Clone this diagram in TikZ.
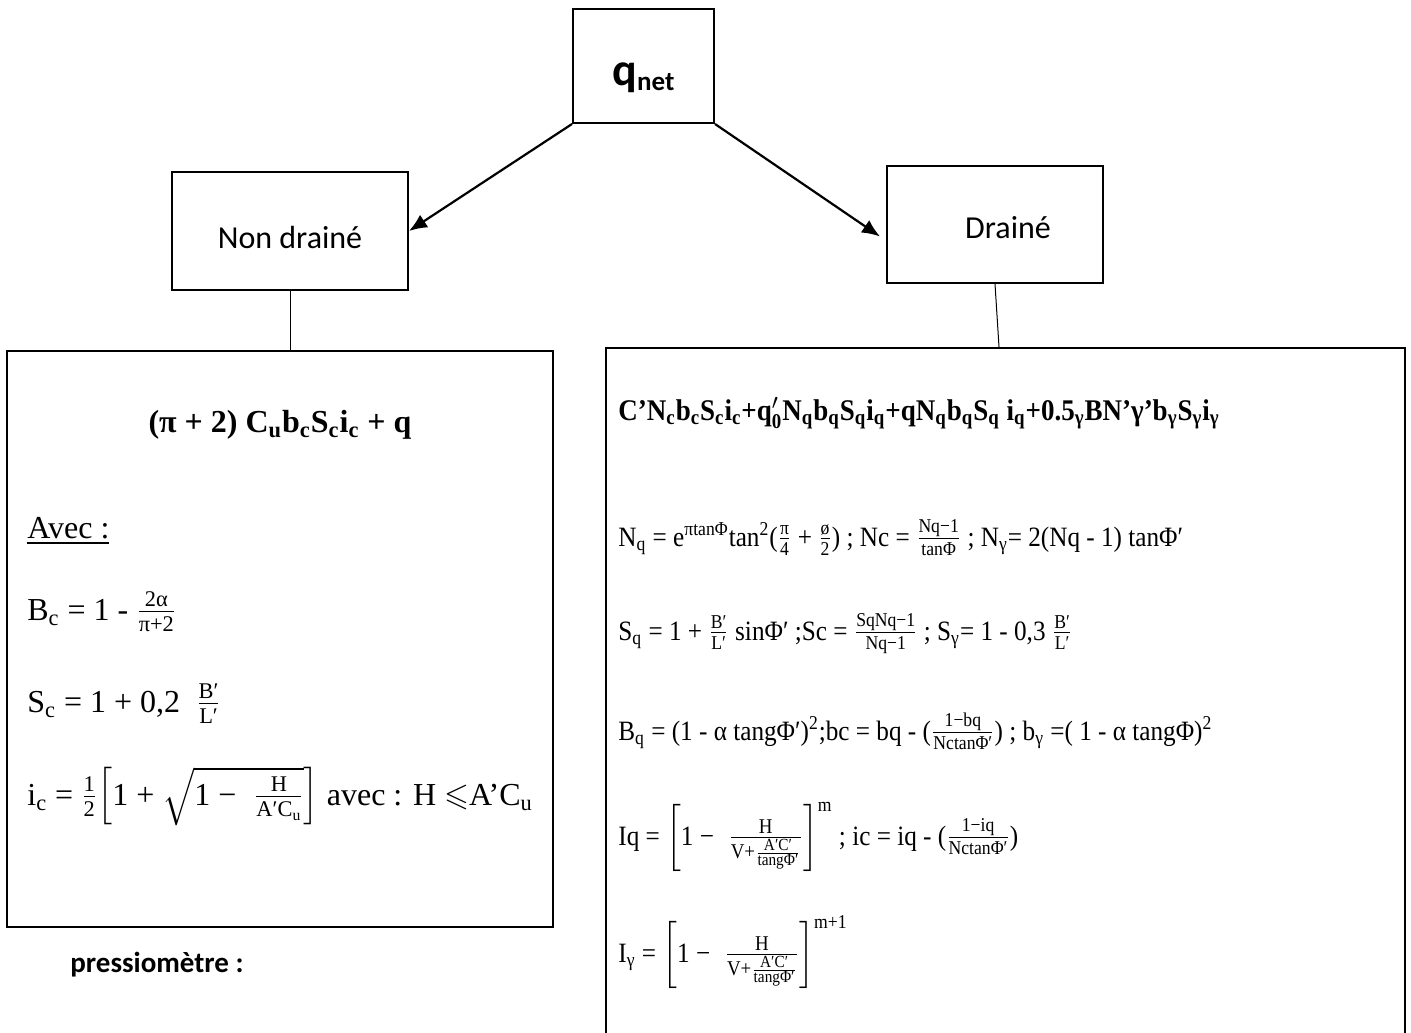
\documentclass[tikz,border=0pt]{standalone}
\usepackage{amsmath,amssymb}
\usepackage{fontspec}
\setmainfont{Liberation Serif}
\newfontfamily\calib{Carlito}
\newfontfamily\rcond[FakeStretch=0.9]{Liberation Serif}
\usetikzlibrary{calc,arrows.meta}
\newcommand\sbs[1]{\textsubscript{#1}}
\newcommand\sps[1]{\textsuperscript{#1}}
\newcommand\fr[2]{\ensuremath{\frac{\text{#1}}{\text{#2}}}}
\newcommand\fsz[1]{\fontsize{#1}{#1}\selectfont}
\newcommand\hfracbig{\frac{\text{\fsz{10.5}H}}{\text{\fsz{10.5}V+}\frac{\text{\fsz{8.5}A′C′}}{\text{\fsz{8.5}tangΦ′}}}}
\begin{document}
\begin{tikzpicture}[x=0.5pt,y=-0.5pt,
  box/.style={draw, line width=1pt, inner sep=0pt},
  conn/.style={draw, line width=0.5pt},
  arr/.style={draw, line width=1.1pt, -{Latex[length=9pt,width=7.5pt]}},
  lt/.style={anchor=base west, inner sep=0pt, font=\fontsize{16}{19}\selectfont},
  rt/.style={anchor=base west, inner sep=0pt, font=\rcond\fontsize{14}{17}\selectfont},
  sans/.style={inner sep=0pt, font=\calib\fontsize{16}{19}\selectfont}]
\useasboundingbox (0,0) rectangle (1411,1032);
\fill[white] (0,0) rectangle (1411,1032);
% top boxes
\node[box, minimum width=70.5pt, minimum height=57pt] (qnet) at (643.5,66) {};
\node[anchor=base, inner sep=0pt] (qlabel) at (643.5,86)
  {\calib\bfseries\fontsize{23}{26}\selectfont q\raisebox{-2.5pt}{\fontsize{13.5}{15}\selectfont net}};
\node[box, minimum width=118pt, minimum height=59pt] (nd) at (290,231) {};
\node[sans] (ndl) at (290,238) {Non drainé};
\node[box, minimum width=108pt, minimum height=58.5pt] (dr) at (995,224.5) {};
\node[sans] (drl) at (1008,228) {Drainé};
% big boxes
\node[box, minimum width=273pt, minimum height=288pt] (lb) at (280,639) {};
\node[box, minimum width=399.5pt, minimum height=350pt, anchor=north west] (rb) at (605,347) {};
% connectors
\draw[arr] (qnet.south west) -- (nd.east);
\draw[arr] (qnet.south east) -- ($(dr.west)+(-6,12)$);
\draw[conn] (nd.south) -- (nd.south |- lb.north);
\draw[conn] (dr.south) -- ($(dr.south |- rb.north)+(4,0)$);
% left box texts
\node[anchor=base, inner sep=0pt, font=\bfseries\fontsize{16}{19}\selectfont] (f0) at (280,432)
  {(π + 2) C\sbs{u}b\sbs{c}S\sbs{c}i\sbs{c} + q};
\node[lt] (avec) at (27,538) {\underline{Avec :}};
\node[lt] (bc) at (27,620) {B\sbs{c} = 1 - \fr{2α}{π+2}};
\node[lt] (sc) at (27,712) {S\sbs{c} = 1 + 0,2 \ \fr{B′}{L′}};
\node[lt] (ic) at (27,805) {i\sbs{c} = \fr{1}{2}$\left[\text{1 + }\sqrt{\text{1 − }\;\frac{\text{H}}{\text{A′C\sbs{u}}}}\right]$ avec : H $\leqslant$A’C\sbs{u}};
\node[anchor=base west, inner sep=0pt, font=\calib\bfseries\fontsize{14.5}{17}\selectfont] (pr) at (70,972) {pressiomètre :};
% right box texts
\node[rt, font=\rcond\bfseries\fontsize{15}{18}\selectfont] (f1) at (618,420)
  {C’N\sbs{c}b\sbs{c}S\sbs{c}i\sbs{c}+$\text{q}'_{\text{0}}$N\sbs{q}b\sbs{q}S\sbs{q}i\sbs{q}+qN\sbs{q}b\sbs{q}S\sbs{q} i\sbs{q}+0.5\sbs{γ}BN’γ’b\sbs{γ}S\sbs{γ}i\sbs{γ}};
\node[rt] (nq) at (618,546)
  {N\sbs{q} = e\sps{πtanΦ}tan\sps{2}(\fr{π}{4} + \fr{ø}{2}) ; Nc = \fr{Nq−1}{tanΦ} ; N\sbs{γ}= 2(Nq - 1) tanΦ′};
\node[rt] (sq) at (618,640)
  {S\sbs{q} = 1 + \fr{B′}{L′} sinΦ′ ;Sc = \fr{SqNq−1}{Nq−1} ; S\sbs{γ}= 1 - 0,3 \fr{B′}{L′}};
\node[rt] (bq) at (618,740)
  {B\sbs{q} = (1 - α tangΦ′)\sps{2};bc = bq - (\fr{1−bq}{NctanΦ′}) ; b\sbs{γ} =( 1 - α tangΦ)\sps{2}};
\node[rt] (iq) at (618,845)
  {Iq = $\left[\text{1 − }\;\hfracbig\right]^{\text{m}}$ ; ic = iq - (\fr{1−iq}{NctanΦ′})};
\node[rt] (ig) at (618,962)
  {I\sbs{γ} = $\left[\text{1 − }\;\hfracbig\right]^{\text{m+1}}$};
\end{tikzpicture}
\end{document}
